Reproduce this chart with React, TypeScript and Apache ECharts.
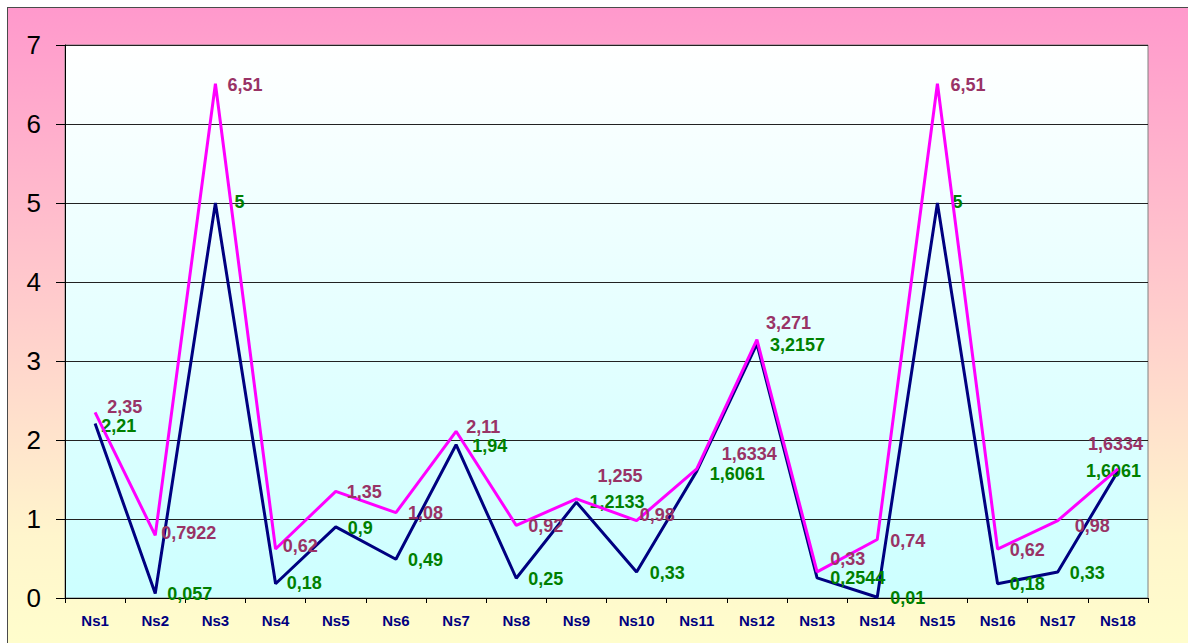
import React, { useEffect, useRef } from "react";
import * as echarts from "echarts";

const categories = ["Ns1", "Ns2", "Ns3", "Ns4", "Ns5", "Ns6", "Ns7", "Ns8", "Ns9", "Ns10", "Ns11", "Ns12", "Ns13", "Ns14", "Ns15", "Ns16", "Ns17", "Ns18"];
const seriesPink = [2.35, 0.7922, 6.51, 0.62, 1.35, 1.08, 2.11, 0.92, 1.255, 0.98, 1.6334, 3.271, 0.33, 0.74, 6.51, 0.62, 0.98, 1.6334];
const seriesNavy = [2.21, 0.057, 5, 0.18, 0.9, 0.49, 1.94, 0.25, 1.2133, 0.33, 1.6061, 3.2157, 0.2544, 0.01, 5, 0.18, 0.33, 1.6061];
const yMin = 0;
const yMax = 7;
const yStep = 1;

// label nudges (presentation only), [dx, dy] relative to the default "right" placement
const pinkLabelOffsets: [number, number][] = [
  [7, -5], [1, -2], [7, 1], [2, -3], [6, 1], [7, 0], [5, -4], [7, 1], [16, -23],
  [-2, -6], [20, -15], [4, -17], [8, -13], [8, 1], [8, 1], [7, 1], [12, 5], [-35, -25],
];
const navyLabelOffsets: [number, number][] = [
  [1, 3], [7, 1], [14, -1], [6, -1], [7, 1], [7, 1], [11, 1], [7, 1], [8, 0],
  [8, 1], [8, 3], [8, 1], [8, 0], [8, 1], [10, -1], [7, 0], [7, 1], [-37, 0],
];

const fmt = (p: any) => String(p.value).replace(".", ",");

export default function App() {
  const ref = useRef<HTMLDivElement>(null);
  useEffect(() => {
    if (!ref.current) return;
    const chart = echarts.init(ref.current, null, { renderer: "svg" });
    const labelBase = {
      show: true,
      position: "right",
      distance: 5,
      fontFamily: "Arial, 'Liberation Sans', sans-serif",
      fontWeight: "bold",
      fontSize: 18,
      formatter: fmt,
    };
    const layoutFor = (offs: [number, number][]) => (params: any) => {
      const o = offs[params.dataIndex] || [0, 0];
      return { dx: o[0], dy: o[1], hideOverlap: false };
    };
    chart.setOption({
      animation: false,
      backgroundColor: "transparent",
      grid: {
        left: 65,
        top: 45,
        right: 40,
        bottom: 45,
        show: true,
        backgroundColor: new echarts.graphic.LinearGradient(0, 0, 0, 1, [
          { offset: 0, color: "#FFFFFF" },
          { offset: 1, color: "#CCFFFF" },
        ]),
        borderColor: "#808080",
        borderWidth: 1,
      },
      xAxis: {
        type: "category",
        data: categories,
        boundaryGap: true,
        axisLine: { show: true, lineStyle: { color: "#000000", width: 1 } },
        axisTick: { show: true, length: 5, alignWithLabel: false, lineStyle: { color: "#000000" } },
        axisLabel: {
          color: "#000080",
          fontFamily: "Arial, 'Liberation Sans', sans-serif",
          fontWeight: "bold",
          fontSize: 15,
          margin: 15,
          interval: 0,
        },
        splitLine: { show: false },
      },
      yAxis: {
        type: "value",
        min: yMin,
        max: yMax,
        interval: yStep,
        axisLine: { show: true, lineStyle: { color: "#000000", width: 1 } },
        axisTick: { show: true, length: 9, lineStyle: { color: "#000000" } },
        axisLabel: {
          color: "#000000",
          fontFamily: "Arial, 'Liberation Sans', sans-serif",
          fontSize: 26,
          margin: 24,
        },
        splitLine: { show: true, lineStyle: { color: "#222222", width: 1 } },
      },
      series: [
        {
          type: "line",
          name: "A",
          data: seriesPink,
          showSymbol: true,
          showAllSymbol: true,
          symbol: "circle",
          symbolSize: 0.1,
          lineStyle: { color: "#FF00FF", width: 3 },
          itemStyle: { color: "#FF00FF" },
          label: { ...labelBase, color: "#993366" },
          labelLayout: layoutFor(pinkLabelOffsets),
          z: 3,
        },
        {
          type: "line",
          name: "B",
          data: seriesNavy,
          showSymbol: true,
          showAllSymbol: true,
          symbol: "circle",
          symbolSize: 0.1,
          lineStyle: { color: "#000080", width: 3 },
          itemStyle: { color: "#000080" },
          label: { ...labelBase, color: "#008000" },
          labelLayout: layoutFor(navyLabelOffsets),
          z: 2,
        },
      ],
    });
    return () => chart.dispose();
  }, []);

  return (
    <div style={{ position: "fixed", left: 0, top: 0, width: 1188, height: 643, background: "#FFFFFF", overflow: "hidden" }}>
      <div
        style={{
          position: "absolute",
          left: 7,
          top: 7,
          width: 1200,
          height: 660,
          border: "1px solid #4a4a4a",
          background: "linear-gradient(to bottom, #FF99CC 0%, #FFCCCC 45%, #FFF5CC 80%, #FFFFCC 100%)",
        }}
      />
      <div ref={ref} style={{ position: "absolute", left: 0, top: 0, width: 1188, height: 643 }} />
    </div>
  );
}
